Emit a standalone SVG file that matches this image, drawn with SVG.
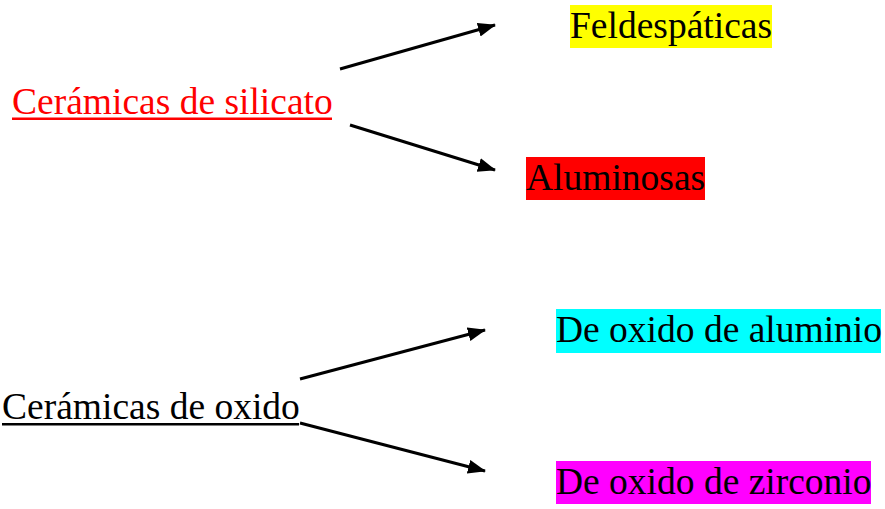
<svg xmlns="http://www.w3.org/2000/svg" width="885" height="509" viewBox="0 0 885 509">
<style>
  text { font-family: "Liberation Serif", "Times New Roman", serif; font-size: 37.5px; fill: #000; }
  .conn line { stroke: #000; stroke-width: 3; fill: none; }
</style>
<defs>
  <marker id="arr" markerUnits="userSpaceOnUse" markerWidth="20" markerHeight="16" refX="17" refY="7" orient="auto">
    <path d="M0,0 L18,7 L0,14 z" fill="#000"/>
  </marker>
</defs>
<rect width="885" height="509" fill="#fff"/>
<g id="silicato">
  <text x="12" y="114" style="fill:#ff0000">Cerámicas de silicato</text>
  <rect x="12" y="117.5" width="320" height="2.5" fill="#ff0000"/>
</g>
<g id="feldespaticas">
  <rect x="570" y="5" width="202" height="43" fill="#ffff00"/>
  <text x="570" y="38">Feldespáticas</text>
</g>
<g id="aluminosas">
  <rect x="526" y="157" width="179" height="43" fill="#ff0000"/>
  <text x="526" y="190">Aluminosas</text>
</g>
<g id="oxido">
  <text x="2" y="419">Cerámicas de oxido</text>
  <rect x="2" y="423" width="297" height="2.5" fill="#000"/>
</g>
<g id="aluminio">
  <rect x="556" y="309" width="325" height="44" fill="#00ffff"/>
  <text x="556" y="342">De oxido de aluminio</text>
</g>
<g id="zirconio">
  <rect x="556" y="461" width="315" height="43" fill="#ff00ff"/>
  <text x="556" y="494">De oxido de zirconio</text>
</g>
<g class="conn" id="connectors">
  <line x1="340" y1="69" x2="495" y2="25" marker-end="url(#arr)"/>
  <line x1="350" y1="125" x2="495" y2="170" marker-end="url(#arr)"/>
  <line x1="300" y1="379" x2="485" y2="330" marker-end="url(#arr)"/>
  <line x1="300" y1="423" x2="485" y2="471" marker-end="url(#arr)"/>
</g>
</svg>
